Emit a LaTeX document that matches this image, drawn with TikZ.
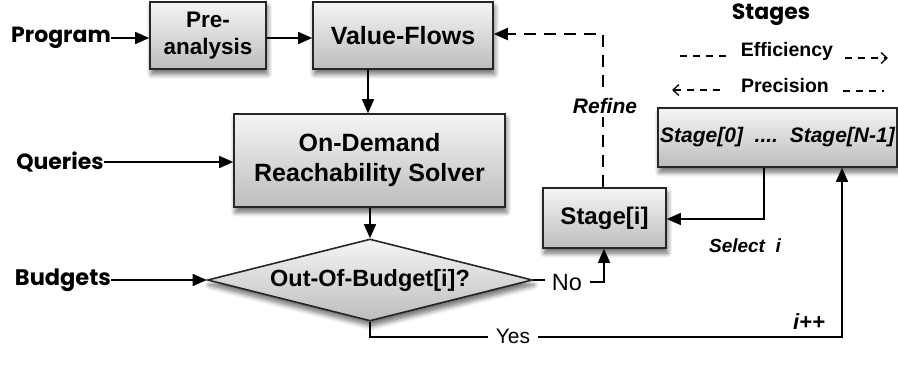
\documentclass[tikz,border=0pt]{standalone}
\usepackage{fontspec}
\setmainfont{Liberation Sans}
\newfontfamily\handfont{Poppins}
\usetikzlibrary{arrows.meta,shapes.geometric,shadows.blur}

\tikzset{
  shade box/.style={draw=black!85, line width=1.6pt, top color=white!96!black,
    bottom color=white!74!black, inner sep=0pt,
    blur shadow={shadow xshift=1.5pt, shadow yshift=-5pt, shadow blur radius=5pt,
      shadow blur steps=8, shadow opacity=60}},
  flowbox/.style={shade box, rectangle, font=\bfseries\fontsize{25}{30}\selectfont, align=center},
  inlabel/.style={font=\handfont\bfseries\fontsize{22}{25}\selectfont, inner sep=0pt},
  conn/.style={line width=1.4pt, -{Triangle[length=14pt,width=12pt]}},
  plainline/.style={line width=1.4pt},
  refinedash/.style={line width=2.2pt, dash pattern=on 12pt off 8pt, -{Triangle[length=14pt,width=12pt]}},
  legenddash/.style={line width=1.3pt, dash pattern=on 7pt off 6pt},
  onwhite/.style={fill=white, inner sep=3pt},
}

\begin{document}
\begin{tikzpicture}[x=1pt,y=-1pt]
\path[use as bounding box] (0,0) rectangle (898,366);

% main processing boxes
\node[flowbox, minimum width=116pt, minimum height=67pt,
  font=\bfseries\fontsize{22.5}{26.5}\selectfont] (pre) at (208,35.5) {Pre-\\analysis};
\node[flowbox, minimum width=180pt, minimum height=67pt] (vf) at (403,35.5) {Value-Flows};
\node[flowbox, minimum width=271pt, minimum height=93pt] (solver) at (369.5,160.5)
  {On-Demand\\Reachability Solver};
\node[shade box, diamond, aspect=3.96, minimum width=325pt, minimum height=82pt,
  font=\bfseries\fontsize{23.5}{26}\selectfont] (budget) at (370,280) {Out-Of-Budget[i]?};
\node[flowbox, minimum width=123pt, minimum height=60pt,
  font=\bfseries\fontsize{24}{28}\selectfont] (stage) at (604.5,218) {Stage[i]};
\node[flowbox, minimum width=239pt, minimum height=59pt,
  font=\bfseries\itshape\fontsize{21}{25}\selectfont] (stages) at (777.5,137.5)
  {Stage[0]\ \ ....\ \ Stage[N-1]};

% inputs on the left
\node[inlabel] (program) at (61,38) {Program};
\node[inlabel] (queries) at (60,162) {Queries};
\node[inlabel, font=\handfont\bfseries\fontsize{22.5}{25}\selectfont] (budgets) at (63,280) {Budgets};

\draw[conn] (program.east) -- (program.east -| pre.west);
\draw[conn] (pre.east |- program.east) -- (vf.west |- program.east);
\draw[conn] (queries.east) -- (queries.east -| solver.west);
\draw[conn] (budgets.east) -- (budget.west);

\coordinate (vfdown) at (368,0);
\draw[conn] (vf.south -| vfdown) -- (solver.north -| vfdown);
\draw[conn] (solver.south -| budget.north) -- (budget.north);

% stage legend
\node[inlabel] (stagestitle) at (771,15) {Stages};
\node[font=\bfseries\fontsize{19.5}{22}\selectfont, inner sep=0pt] (eff) at (787,51) {Efficiency};
\node[font=\bfseries\fontsize{19.5}{22}\selectfont, inner sep=0pt] (prec) at (785,86) {Precision};
\coordinate (effA) at (680,56);
\coordinate (effB) at (730,56);
\coordinate (effC) at (845,58);
\coordinate (effD) at (888,58);
\coordinate (precA) at (672,90);
\coordinate (precB) at (722,90);
\coordinate (precC) at (843,91);
\coordinate (precD) at (884,91);
\draw[legenddash] (effA) -- (effB);
\draw[legenddash, -{Straight Barb[length=6pt,width=11pt,line width=1.3pt]}] (effC) -- (effD);
\draw[legenddash, {Straight Barb[length=6pt,width=11pt,line width=1.3pt]}-] (precA) -- (precB);
\draw[legenddash] (precC) -- (precD);

% refinement loop
\coordinate (rcorner) at (603,34);
\draw[refinedash] (stage.north -| rcorner) -- (rcorner) -- (vf.east |- rcorner);
\node[onwhite, font=\bfseries\itshape\fontsize{21}{24}\selectfont] (refine) at (605,106) {Refine};

% stage selection
\coordinate (selcorner) at (764,219);
\draw[conn] (stages.south -| selcorner) -- (selcorner) -- (stage.east |- selcorner);
\node[font=\bfseries\itshape\fontsize{19}{22}\selectfont, inner sep=0pt] (select) at (745,246) {Select\ \ i};

% decision outcomes
\coordinate (nostart) at (545,0);
\coordinate (noresume) at (590,282);
\coordinate (nocorner) at (604,282);
\draw[plainline] (budget.east) -- (budget.east -| nostart);
\draw[conn] (noresume) -- (nocorner) -- (stage.south -| nocorner);
\node[font=\fontsize{23.5}{26}\selectfont, inner sep=0pt] (no) at (567,283) {No};

\coordinate (yesdown) at (370,337);
\coordinate (yescorner) at (842,337);
\draw[conn] (budget.south) -- (yesdown) -- (yescorner) -- (stages.south -| yescorner);
\node[onwhite, font=\fontsize{21}{24}\selectfont, inner xsep=8pt] (yes) at (513,336) {Yes};
\node[font=\bfseries\itshape\fontsize{22}{25}\selectfont, inner sep=0pt] (inc) at (809,322) {i++};
\end{tikzpicture}
\end{document}
